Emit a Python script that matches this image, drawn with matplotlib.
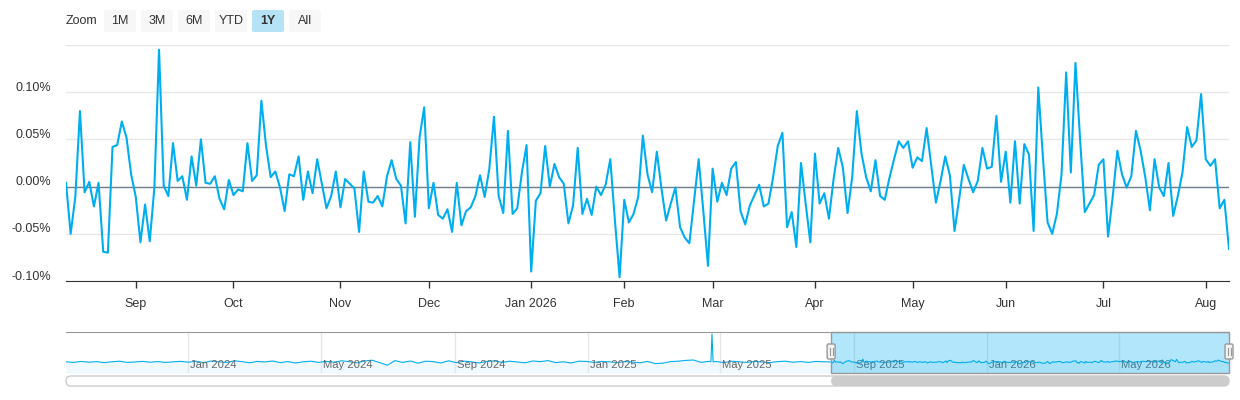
import numpy as np
import pandas as pd
import matplotlib
matplotlib.use('Agg')
import matplotlib.pyplot as plt
import matplotlib.dates as mdates
import matplotlib.transforms as mtrans
from matplotlib.patches import FancyBboxPatch, Rectangle

plt.rcParams['font.family'] = ['Liberation Sans', 'DejaVu Sans']

# ---- data -------------------------------------------------------------
START = '2025-08-11'
HOLIDAYS = ['2025-09-01', '2025-11-27', '2025-12-25', '2026-01-01', '2026-01-19',
            '2026-02-16', '2026-04-03', '2026-05-25', '2026-06-19', '2026-07-03']

# daily change in percent, last year (one value per trading day)
values = [
    0.004, -0.050, -0.011, 0.080, -0.006, 0.005, -0.021, 0.004, -0.069, -0.070,
    0.042, 0.044, 0.069, 0.052, 0.013, -0.011, -0.059, -0.019, -0.058, -0.001,
    0.145, 0.001, -0.010, 0.046, 0.006, 0.011, -0.014, 0.032, 0.001, 0.050,
    0.004, 0.003, 0.011, -0.013, -0.024, 0.007, -0.009, -0.003, -0.005, 0.046,
    0.006, 0.012, 0.091,
    0.043, 0.010, 0.016, -0.001, -0.026, 0.013, 0.011, 0.032, -0.014, 0.016,
    -0.007, 0.029, 0.003, -0.023, -0.010, 0.016, -0.022, 0.008, 0.003, -0.002,
    -0.048, 0.016, -0.016, -0.017, -0.010, -0.021, 0.011, 0.028, 0.008, 0.001,
    -0.039, 0.047, -0.032, 0.052, 0.084, -0.023, 0.004, -0.030, -0.034, -0.024,
    -0.048, 0.004,
    -0.041, -0.026, -0.022, -0.010, 0.012, -0.011, 0.019, 0.074, -0.010, -0.028,
    0.059, -0.029, -0.023, 0.015, 0.044, -0.090, -0.015, -0.007, 0.043, 0.000,
    0.024, 0.010, 0.003, -0.039, -0.020, 0.041, -0.029, -0.013, -0.030, 0.000,
    -0.009, 0.002, 0.029, -0.036, -0.096, -0.014, -0.038, -0.029, -0.011, 0.054,
    0.013, -0.006,
    0.037, -0.002, -0.036, -0.018, -0.001, -0.043, -0.054, -0.060, -0.015, 0.029,
    -0.026, -0.084, 0.019, -0.016, 0.004, -0.009, 0.019, 0.026, -0.026, -0.040,
    -0.020, -0.009, 0.002, -0.021, -0.018, 0.010, 0.043, 0.057, -0.043, -0.027,
    -0.064, 0.025, -0.018, -0.059, 0.035, -0.018, -0.007, -0.034, 0.008, 0.041,
    0.020, -0.028,
    0.010, 0.080, 0.035, 0.010, -0.005, 0.028, -0.010, -0.014, 0.009, 0.029,
    0.048, 0.041, 0.048, 0.020, 0.031, 0.027, 0.062, 0.022, -0.017, 0.006,
    0.032, 0.012, -0.047, -0.013, 0.023, 0.008, -0.006, 0.006, 0.041, 0.019,
    0.021, 0.075, 0.005, 0.037, -0.017, 0.048, -0.018, 0.045, 0.034, -0.047,
    0.105,
    0.031, -0.038, -0.050, -0.029, 0.013, 0.121, 0.015, 0.131, 0.049, -0.027,
    -0.018, -0.009, 0.023, 0.029, -0.053, -0.011, 0.038, 0.013, -0.001, 0.011,
    0.059, 0.038, 0.010, -0.025, 0.029, -0.001, -0.010, 0.025, -0.031, -0.010,
    0.015, 0.063, 0.042, 0.049, 0.098, 0.029, 0.022, 0.029, -0.023, -0.014,
    -0.066,
]

# older history shown only in the navigator (weekly readings, percent)
HIST_START = '2023-09-11'
hist_values = [
    0.01, -0.02, 0.03, -0.01, 0.02, -0.03, 0.01, 0.04, -0.02, 0.00,
    0.03, -0.01, 0.02, -0.02, 0.01, 0.03,
    -0.01, 0.04, -0.03, 0.05, 0.01, -0.02, 0.06, 0.02, -0.04, 0.03,
    0.00, 0.05, -0.03, 0.02, -0.05, 0.01, 0.04, -0.02,
    0.03, -0.01, 0.06, 0.02, -0.04, 0.05, 0.09, -0.03, -0.16, 0.07,
    -0.02, 0.05, -0.06, 0.04, 0.02, -0.05, 0.06,
    -0.03, 0.04, 0.01, -0.05, 0.03, 0.06, -0.02, 0.04, 0.00, -0.04,
    0.05, 0.02, 0.07, -0.03, 0.01, -0.05, 0.04, 0.03,
    -0.02, 0.03, 0.01, -0.03, 0.02, 0.00, -0.04, 0.03, -0.08, -0.06,
    0.02, 0.04, 0.08, 0.10, -0.02, 0.03, 0.02, -0.03, 0.04, 0.01,
    -0.02, 0.03, 0.00, -0.03, 0.02, 0.04, -0.01, 0.02, -0.02, 0.03,
    0.01,
]
spike_dates = ['2025-04-23', '2025-04-24', '2025-04-25']
spike_values = [0.02, 1.40, 0.01]

y_ticks = [-0.10, -0.05, 0.0, 0.05, 0.10, 0.15]
buttons = ['1M', '3M', '6M', 'YTD', '1Y', 'All']
selected_button = '1Y'

LINE = '#00aeef'
TEXT = '#333333'
GRID = '#e6e6e6'

# ---- dates --------------------------------------------------------------
dates = pd.bdate_range(start=START, periods=len(values), freq='C', holidays=HOLIDAYS)
idx = np.arange(len(values))
months = dates.to_period('M')
first_of_month = [i for i in range(1, len(dates)) if months[i] != months[i - 1]]
month_labels = [dates[i].strftime('%b %Y') if dates[i].month == 1 else dates[i].strftime('%b')
                for i in first_of_month]

hist_dates = pd.date_range(HIST_START, periods=len(hist_values), freq='7D')
nav = pd.concat([
    pd.Series(hist_values, index=hist_dates),
    pd.Series(spike_values, index=pd.to_datetime(spike_dates)),
    pd.Series(values, index=dates),
]).sort_index()

# ---- figure -------------------------------------------------------------
fig = plt.figure(figsize=(12.4, 4.0), dpi=100)
W, H = 1240, 400


def frame(x0, y0, x1, y1):
    return [x0 / W, 1 - y1 / H, (x1 - x0) / W, (y1 - y0) / H]


ax = fig.add_axes(frame(66, 45, 1229, 281))
ax.plot(idx, values, color=LINE, lw=1.5, zorder=3)
ax.axhline(0, color='#708090', lw=1, zorder=2)
ax.set_xlim(idx[0], idx[-1])
ax.set_ylim(-0.10, 0.15)
ax.set_yticks(y_ticks)
ax.set_yticklabels(['' if v > 0.12 else f'{v:.2f}%' for v in y_ticks])
ax.grid(axis='y', color=GRID, lw=1)
ax.set_axisbelow(True)
ax.set_xticks(first_of_month)
ax.set_xticklabels(month_labels)
for s in ['left', 'right', 'top']:
    ax.spines[s].set_visible(False)
ax.spines['bottom'].set_color(TEXT)
ax.tick_params(axis='x', length=5, width=1, color=TEXT, labelcolor=TEXT, labelsize=9, pad=7.5)
ax.tick_params(axis='y', length=0, labelcolor=TEXT, labelsize=9, pad=11)
for lab in ax.get_yticklabels():
    lab.set_transform(lab.get_transform() + mtrans.ScaledTranslation(0, 0.06, fig.dpi_scale_trans))

# navigator
nv = fig.add_axes(frame(66, 332, 1229, 373))
nx = mdates.date2num(nav.index.to_pydatetime())
ny = nav.values
nv.set_xlim(mdates.date2num(pd.Timestamp(HIST_START)), nx[-1])
nv.set_ylim(-0.55, 1.5)
nv.fill_between(nx, ny, -0.55, color='#f0f9fe', lw=0, zorder=1)
nv.plot(nx, ny, color=LINE, lw=0.8, zorder=3)
for s in ['left', 'right', 'bottom']:
    nv.spines[s].set_visible(False)
nv.spines['top'].set_color('#999999')
nv.set_xticks([])
nv.set_yticks([])
blend = mtrans.blended_transform_factory(nv.transData, nv.transAxes)
for d in pd.date_range('2024-01-01', dates[-1], freq='4MS'):
    dn = mdates.date2num(d)
    nv.axvline(dn, color=GRID, lw=1, zorder=2)
    nv.text(dn, 0.2, d.strftime('%b %Y'), transform=blend + mtrans.ScaledTranslation(0.02, 0, fig.dpi_scale_trans),
            ha='left', va='center', fontsize=8.1, color='#666666', zorder=4)
sel0 = mdates.date2num(dates[0])
sel1 = mdates.date2num(dates[-1])
nv.axvspan(sel0, sel1, color=LINE, alpha=0.3, lw=0, zorder=5)
nv.add_patch(Rectangle((sel0, 0), sel1 - sel0, 1, transform=blend, fill=False,
                       ec='#999999', lw=1, zorder=6, clip_on=False))

# overlay in pixel coordinates for the controls
ov = fig.add_axes([0, 0, 1, 1])
ov.set_xlim(0, W)
ov.set_ylim(0, H)
ov.axis('off')
ov.patch.set_alpha(0)


def Y(py):
    return H - py


px0 = nv.transData.transform((sel0, 0))[0]
px1 = nv.transData.transform((sel1, 0))[0]

# scrollbar
ov.add_patch(FancyBboxPatch((66, Y(386)), 1163, 10, boxstyle='round,pad=0,rounding_size=5',
                            fc='white', ec='#cccccc', lw=1))
ov.add_patch(FancyBboxPatch((px0, Y(386)), px1 - px0, 10, boxstyle='round,pad=0,rounding_size=5',
                            fc='#cccccc', ec='none'))

# handles
for hx in [px0, px1]:
    ov.add_patch(FancyBboxPatch((hx - 4, Y(359)), 8, 15, boxstyle='round,pad=0,rounding_size=1.5',
                                fc='#f2f2f2', ec='#999999', lw=1, zorder=7))
    for dx in [-1.5, 1.5]:
        ov.plot([hx + dx, hx + dx], [Y(355), Y(348)], color='#999999', lw=0.8, zorder=8)

# range selector
ov.text(66, Y(21), 'Zoom', ha='left', va='center', fontsize=9, color=TEXT)
for i, b in enumerate(buttons):
    bx = 104 + i * 37
    sel = b == selected_button
    ov.add_patch(FancyBboxPatch((bx, Y(32)), 32, 22, boxstyle='round,pad=0,rounding_size=2',
                                fc='#b5e3f5' if sel else '#f7f7f7', ec='none'))
    ov.text(bx + 16, Y(21), b, ha='center', va='center', fontsize=9, color=TEXT,
            fontweight='bold' if sel else 'normal')

fig.savefig('out.png', dpi=100)
